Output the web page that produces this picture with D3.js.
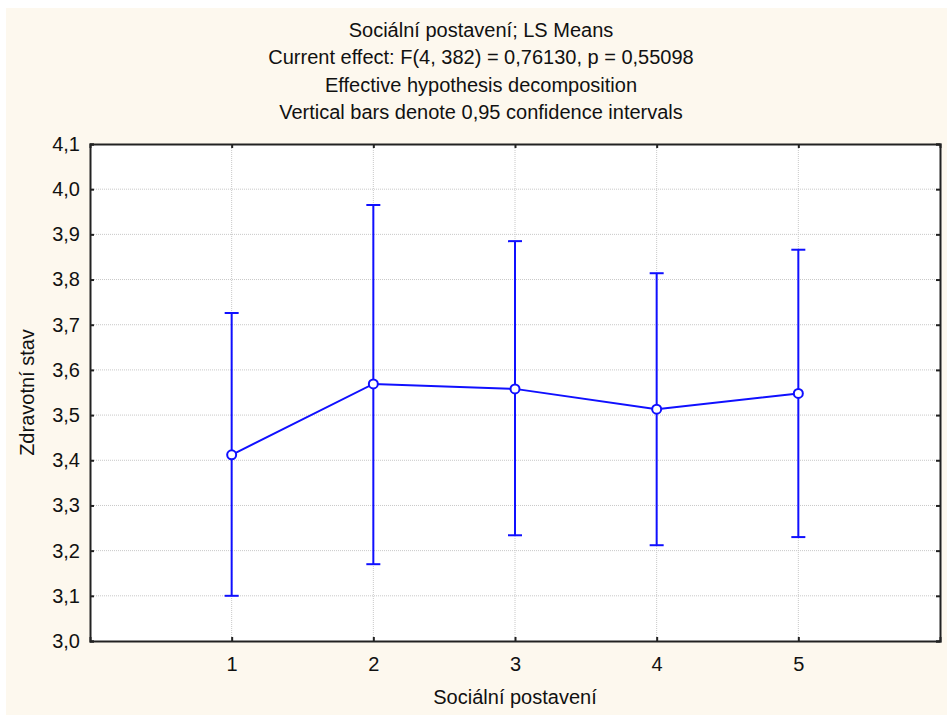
<!DOCTYPE html>
<html>
<head>
<meta charset="utf-8">
<script src="https://cdn.jsdelivr.net/npm/d3@7"></script>
<style>
  body { margin: 0; background: #ffffff; }
  svg { display: block; }
  text { font-family: "Liberation Sans", Arial, sans-serif; fill: #111; }
</style>
</head>
<body>
<svg id="chart" width="947" height="715"></svg>
<script>
// data
const groups = [1, 2, 3, 4, 5];
const means = [3.412, 3.569, 3.558, 3.513, 3.548];
const upper = [3.726, 3.965, 3.885, 3.814, 3.866];
const lower = [3.100, 3.170, 3.234, 3.212, 3.230];
const yTicks = [3.0, 3.1, 3.2, 3.3, 3.4, 3.5, 3.6, 3.7, 3.8, 3.9, 4.0, 4.1];
const titleLines = [
  "Sociální postavení; LS Means",
  "Current effect: F(4, 382) = 0,76130, p = 0,55098",
  "Effective hypothesis decomposition",
  "Vertical bars denote 0,95 confidence intervals"
];

let chart = d3.select("#chart");
let W = 947, H = 715;
let pLeft = 90, pRight = 940, pTop = 144, pBottom = 641;
let blue = "#1010ff";
let fs = "20px";

chart.append("rect")
    .attr("x", 6).attr("y", 8)
    .attr("width", W - 6).attr("height", H - 8)
    .attr("fill", "#fdf8ee");

let xScale = d3.scaleLinear().domain([0, 6]).range([pLeft, pRight]);
let yScale = d3.scaleLinear().domain([3.0, 4.1]).range([pBottom, pTop]);

chart.append("rect")
    .attr("x", pLeft).attr("y", pTop)
    .attr("width", pRight - pLeft).attr("height", pBottom - pTop)
    .attr("fill", "#ffffff");

// grid
chart.append("g").selectAll("line")
    .data(yTicks.slice(1, -1)).enter()
    .append("line")
        .attr("x1", pLeft).attr("x2", pRight)
        .attr("y1", d => yScale(d)).attr("y2", d => yScale(d))
        .attr("stroke", "#c8c8c8").attr("stroke-dasharray", "1,1");
chart.append("g").selectAll("line")
    .data(groups).enter()
    .append("line")
        .attr("y1", pTop).attr("y2", pBottom)
        .attr("x1", d => xScale(d)).attr("x2", d => xScale(d))
        .attr("stroke", "#c8c8c8").attr("stroke-dasharray", "1,1");

// axes with inward ticks
let fmt = d => d3.format(".1f")(d).replace(".", ",");
let yAxis = chart.append("g")
    .attr("transform", "translate(" + pLeft + ",0)")
    .call(d3.axisLeft(yScale).tickValues(yTicks).tickFormat(fmt).tickSize(-4).tickPadding(10));
let yAxisR = chart.append("g")
    .attr("transform", "translate(" + pRight + ",0)")
    .call(d3.axisRight(yScale).tickValues(yTicks).tickFormat("").tickSize(-4));
let xAxis = chart.append("g")
    .attr("transform", "translate(0," + pBottom + ")")
    .call(d3.axisBottom(xScale).tickValues(groups).tickFormat(d3.format("d")).tickSize(-4).tickPadding(16));
let xAxisT = chart.append("g")
    .attr("transform", "translate(0," + pTop + ")")
    .call(d3.axisTop(xScale).tickValues(groups).tickFormat("").tickSize(-4));

[yAxis, yAxisR, xAxis, xAxisT].forEach(a => {
    a.select(".domain").attr("stroke", "#222").attr("stroke-width", 2);
    a.selectAll(".tick line").attr("stroke", "#222").attr("stroke-width", 2);
    a.selectAll("text").attr("font-size", fs).attr("fill", "#111")
        .attr("font-family", "'Liberation Sans', Arial, sans-serif");
});

// error bars
let bars = chart.append("g");
groups.forEach((g, i) => {
    let x = xScale(g);
    bars.append("line")
        .attr("x1", x).attr("x2", x)
        .attr("y1", yScale(upper[i])).attr("y2", yScale(lower[i]))
        .attr("stroke", blue).attr("stroke-width", 2);
    [upper[i], lower[i]].forEach(v => {
        bars.append("line")
            .attr("x1", x - 7).attr("x2", x + 7)
            .attr("y1", yScale(v)).attr("y2", yScale(v))
            .attr("stroke", blue).attr("stroke-width", 2);
    });
});

// mean line
let line = d3.line().x((d, i) => xScale(groups[i])).y(d => yScale(d));
chart.append("path")
    .datum(means)
    .attr("d", line)
    .attr("fill", "none")
    .attr("stroke", blue).attr("stroke-width", 2);

chart.selectAll("circle.m")
    .data(means).enter()
    .append("circle")
        .attr("class", "m")
        .attr("cx", (d, i) => xScale(groups[i]))
        .attr("cy", d => yScale(d))
        .attr("r", 4.5)
        .attr("fill", "#ffffff")
        .attr("stroke", blue).attr("stroke-width", 2);

// titles
chart.append("g").selectAll("text")
    .data(titleLines).enter()
    .append("text")
        .text(d => d)
        .attr("x", 481)
        .attr("y", (d, i) => 37 + i * 27.3)
        .attr("text-anchor", "middle")
        .attr("font-size", fs);

chart.append("text")
    .text("Sociální postavení")
    .attr("x", (pLeft + pRight) / 2)
    .attr("y", 704)
    .attr("text-anchor", "middle")
    .attr("font-size", fs);

chart.append("text")
    .text("Zdravotní stav")
    .attr("transform", "translate(34," + ((pTop + pBottom) / 2) + ") rotate(-90)")
    .attr("text-anchor", "middle")
    .attr("font-size", fs);
</script>
</body>
</html>
